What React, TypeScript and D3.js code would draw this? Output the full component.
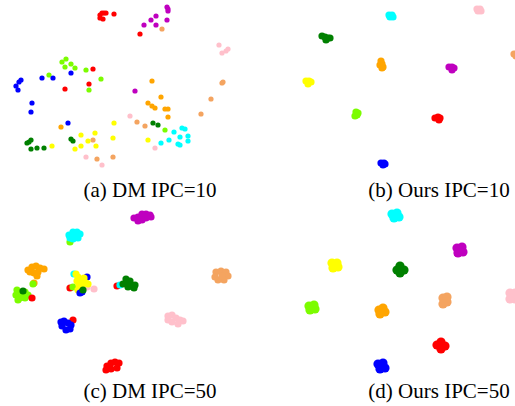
import React from "react";
import * as d3 from "d3";

const classes = ["red", "magenta", "sandy", "pink", "lime", "blue", "orange", "green", "yellow", "cyan"];
const classColors = ["#ff0000", "#bf00bf", "#f4a460", "#ffc0cb", "#7cfc00", "#0000ff", "#ffa500", "#008000", "#ffff00", "#00ffff"];

const captions = ["(a) DM IPC=10", "(b) Ours IPC=10", "(c) DM IPC=50", "(d) Ours IPC=50"];

// [class, x, y] in embedding units
const dmIpc10: [number, number, number][] = [
  [0, 100, 15], [0, 102, 13], [0, 104, 13], [0, 106, 13], [0, 100, 18], [0, 103, 19], [0, 114, 14], [0, 140, 34], [0, 93, 69], [0, 89, 84], [0, 65, 89],
  [1, 167, 7], [1, 168, 9], [1, 168, 11], [1, 156, 16], [1, 151, 20], [1, 167, 20], [1, 144, 25], [1, 156, 25], [1, 135, 91],
  [2, 162, 29], [2, 222, 83], [2, 223, 82], [2, 211, 99], [2, 201, 114], [2, 137, 122], [2, 145, 126], [2, 93, 140], [2, 97, 159], [2, 113, 157],
  [3, 219, 45], [3, 222, 53], [3, 226, 51], [3, 228, 49], [3, 130, 116], [3, 155, 148], [3, 86, 157], [3, 102, 165],
  [4, 62, 62], [4, 66, 59], [4, 65, 67], [4, 71, 64], [4, 75, 68], [4, 86, 70], [4, 49, 75], [4, 101, 79], [4, 89, 90], [4, 165, 130],
  [5, 71, 73], [5, 42, 78], [5, 53, 78], [5, 21, 80], [5, 19, 82], [5, 16, 86], [5, 18, 90], [5, 32, 103], [5, 31, 112], [5, 68, 123],
  [6, 152, 81], [6, 161, 97], [6, 148, 103], [6, 152, 106], [6, 155, 108], [6, 165, 109], [6, 168, 109], [6, 168, 117], [6, 61, 127],
  [7, 27, 143], [7, 29, 142], [7, 31, 140], [7, 31, 149], [7, 37, 148], [7, 44, 148], [7, 71, 139], [7, 73, 141], [7, 153, 123], [7, 158, 125],
  [8, 114, 123], [8, 95, 133], [8, 81, 135], [8, 113, 138], [8, 88, 141], [8, 52, 146], [8, 81, 146], [8, 96, 146], [8, 75, 149], [8, 148, 140],
  [9, 182, 128], [9, 185, 129], [9, 174, 132], [9, 188, 136], [9, 180, 137], [9, 169, 140], [9, 188, 141], [9, 161, 143], [9, 178, 144], [9, 180, 145],
];

const oursIpc10: [number, number, number][] = [
  [9, 129, 15], [9, 132, 15], [9, 130, 17], [9, 133, 17],
  [3, 217, 9], [3, 220, 9], [3, 218, 11], [3, 221, 11],
  [7, 62, 36], [7, 65, 37], [7, 68, 38], [7, 66, 40], [7, 70, 38],
  [2, 254, 54], [2, 256, 56],
  [6, 121, 61], [6, 122, 64], [6, 120, 65], [6, 123, 67], [6, 122, 68],
  [1, 189, 67], [1, 192, 67], [1, 194, 68], [1, 192, 70],
  [8, 46, 81], [8, 49, 81], [8, 51, 82], [8, 48, 84],
  [4, 96, 112], [4, 98, 113], [4, 97, 115], [4, 95, 116],
  [0, 175, 118], [0, 178, 117], [0, 180, 118], [0, 179, 120],
  [5, 121, 163], [5, 124, 163], [5, 123, 165], [5, 125, 164],
];

const dmIpc50: [number, number, number][] = [
  [1, 134, 18], [1, 138, 17], [1, 142, 14], [1, 146, 14], [1, 150, 15], [1, 146, 18], [1, 142, 20], [1, 138, 21], [1, 151, 17],
  [4, 70, 42],
  [9, 69, 35], [9, 73, 32], [9, 77, 32], [9, 80, 34], [9, 78, 38], [9, 73, 39], [9, 70, 38], [9, 75, 35],
  [6, 28, 70], [6, 32, 67], [6, 36, 66], [6, 40, 68], [6, 44, 69], [6, 38, 72], [6, 34, 73], [6, 37, 76], [6, 30, 72],
  [4, 17, 90], [4, 16, 95], [4, 20, 98], [4, 25, 98], [4, 28, 95], [4, 22, 93], [4, 18, 100], [4, 25, 92],
  [7, 23, 91], [0, 32, 98], [6, 34, 83], [4, 33, 84],
  [9, 74, 74], [5, 87, 77], [0, 70, 88], [4, 73, 87], [3, 87, 87], [3, 94, 89],
  [8, 76, 74], [8, 78, 77], [8, 80, 80], [8, 84, 82], [8, 82, 85], [8, 86, 83], [8, 79, 85], [8, 81, 88], [8, 77, 81], [8, 84, 78], [8, 88, 84], [8, 78, 90],
  [5, 80, 93], [5, 82, 92], [7, 83, 90],
  [0, 117, 86], [9, 120, 85],
  [7, 123, 84], [7, 127, 82], [7, 130, 81], [7, 131, 86], [7, 134, 88], [7, 135, 85], [7, 128, 87], [7, 126, 79],
  [2, 216, 72], [2, 221, 71], [2, 226, 72], [2, 228, 76], [2, 224, 80], [2, 218, 80], [2, 215, 77], [2, 222, 76],
  [3, 168, 116], [3, 172, 115], [3, 176, 118], [3, 180, 120], [3, 183, 121], [3, 178, 124], [3, 172, 122], [3, 168, 120],
  [0, 73, 120],
  [5, 61, 122], [5, 64, 121], [5, 68, 123], [5, 71, 125], [5, 70, 129], [5, 66, 130], [5, 62, 126],
  [0, 107, 166], [0, 111, 163], [0, 115, 162], [0, 119, 163], [0, 117, 168], [0, 111, 169], [0, 106, 170],
];

const oursIpc50: [number, number, number][] = [
  [9, 132, 14], [9, 137, 13], [9, 139, 17], [9, 134, 18],
  [1, 197, 48], [1, 202, 47], [1, 203, 52], [1, 198, 53],
  [8, 72, 63], [8, 77, 63], [8, 78, 67], [8, 73, 68],
  [7, 137, 70], [7, 140, 66], [7, 144, 70], [7, 140, 73],
  [4, 49, 106], [4, 54, 105], [4, 55, 109], [4, 50, 110],
  [6, 119, 110], [6, 123, 108], [6, 125, 112], [6, 120, 114],
  [2, 183, 98], [2, 187, 97], [2, 187, 102], [2, 183, 104],
  [3, 250, 93], [3, 255, 93], [3, 255, 99], [3, 250, 99],
  [0, 177, 145], [0, 181, 142], [0, 185, 146], [0, 181, 149],
  [5, 118, 164], [5, 123, 163], [5, 125, 168], [5, 120, 169],
];

const panels = [
  { data: dmIpc10, ox: 0, oy: 0, r: 2.6 },
  { data: oursIpc10, ox: 260, oy: 0, r: 3.6 },
  { data: dmIpc50, ox: 0, oy: 200, r: 3.6 },
  { data: oursIpc50, ox: 260, oy: 200, r: 4.6 },
];

const captionPos = [
  { x: 150, y: 197 },
  { x: 439, y: 197 },
  { x: 150, y: 398 },
  { x: 439, y: 398 },
];

export default function App() {
  const W = 515;
  const H = 406;
  return (
    <svg width={W} height={H} style={{ position: "absolute", left: 0, top: 0, background: "#fff" }}>
      <rect width={W} height={H} fill="#fff" />
      {panels.map((p, i) => {
        const x = d3.scaleLinear().domain([0, 255]).range([p.ox, p.ox + 255]);
        const y = d3.scaleLinear().domain([0, 175]).range([p.oy, p.oy + 175]);
        return (
          <g key={i}>
            {p.data.map((d, j) => (
              <circle key={j} cx={x(d[1])} cy={y(d[2])} r={p.r} fill={classColors[d[0]]} />
            ))}
          </g>
        );
      })}
      {captions.map((c, i) => (
        <text
          key={c}
          x={captionPos[i].x}
          y={captionPos[i].y}
          textAnchor="middle"
          fontFamily="Liberation Serif, Times New Roman, serif"
          fontSize={21}
          fill="#000"
        >
          {c}
        </text>
      ))}
    </svg>
  );
}
